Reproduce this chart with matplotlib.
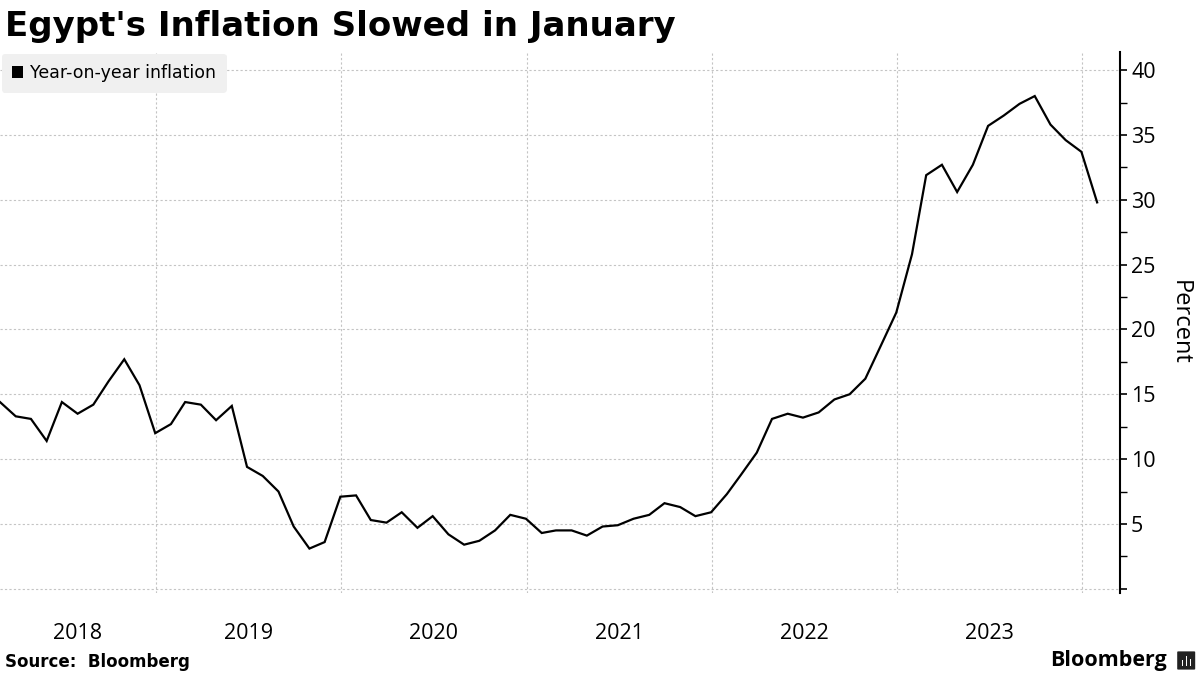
"""
Egypt year-on-year inflation, Bloomberg style line chart.
"""
import matplotlib
matplotlib.use('Agg')
import matplotlib.pyplot as plt
import matplotlib.ticker as mticker
from matplotlib.patches import Patch, FancyBboxPatch
import pandas as pd

# monthly readings, Feb 2018 .. Jan 2024 (month-end)
start_month = '2018-02-28'
inflation = [
    14.4, 13.3, 13.1, 11.4, 14.4, 13.5, 14.2, 16.0, 17.7, 15.7, 12.0,   # 2018
    12.7, 14.4, 14.2, 13.0, 14.1, 9.4, 8.7, 7.5, 4.8, 3.1, 3.6, 7.1,    # 2019
    7.2, 5.3, 5.1, 5.9, 4.7, 5.6, 4.2, 3.4, 3.7, 4.5, 5.7, 5.4,         # 2020
    4.3, 4.5, 4.5, 4.1, 4.8, 4.9, 5.4, 5.7, 6.6, 6.3, 5.6, 5.9,         # 2021
    7.3, 8.8, 10.5, 13.1, 13.5, 13.2, 13.6, 14.6, 15.0, 16.2, 18.7, 21.3,  # 2022
    25.8, 31.9, 32.7, 30.6, 32.7, 35.7, 36.5, 37.4, 38.0, 35.8, 34.6, 33.7,  # 2023
    29.8,                                                               # 2024
]
year_labels = ['2018', '2019', '2020', '2021', '2022', '2023']
y_ticks = [5, 10, 15, 20, 25, 30, 35, 40]

dates = pd.date_range(start_month, periods=len(inflation), freq='ME')

fig = plt.figure(figsize=(12, 6.75), dpi=100)
ax = fig.add_axes([0.0, 0.122, 0.9333, 0.801])

ax.plot(dates, inflation, color='black', linewidth=1.6, solid_joinstyle='miter')

x_left = pd.Timestamp('2018-02-28')
x_right = pd.Timestamp('2024-03-16')
ax.set_xlim(x_left, x_right)
ax.set_ylim(-0.3, 41.4)

# year gridlines at boundaries, labels centred in each visible year
boundaries = [pd.Timestamp(f'{y}-01-01') for y in range(2019, 2025)]
ax.set_xticks(boundaries)
ax.tick_params(axis='x', which='major', length=0, labelbottom=False)
centres = []
for lab in year_labels:
    y = int(lab)
    a = max(pd.Timestamp(f'{y}-01-01'), x_left)
    b = pd.Timestamp(f'{y + 1}-01-01')
    centres.append(a + (b - a) / 2)
ax.set_xticks(centres, minor=True)
ax.set_xticklabels(year_labels, minor=True, fontsize=15.5, family='Open Sans')
ax.tick_params(axis='x', which='minor', length=0, pad=22)

ax.yaxis.tick_right()
ax.yaxis.set_label_position('right')
ax.set_yticks([0] + y_ticks)
ax.set_yticklabels([''] + [str(v) for v in y_ticks], fontsize=15.5, family='Open Sans')
ax.yaxis.set_minor_locator(mticker.MultipleLocator(2.5))
ax.tick_params(axis='y', which='major', length=5, width=1.2, pad=3)
ax.tick_params(axis='y', which='minor', length=5, width=1.0)
ax.set_ylabel('Percent', fontsize=17, family='Open Sans', rotation=270, labelpad=26)

grid_kw = dict(color='#c4c4c4', linewidth=0.8, linestyle=(0, (2, 2)))
ax.grid(axis='y', which='major', **grid_kw)
ax.grid(axis='x', which='major', **grid_kw)

for side in ['top', 'left', 'bottom']:
    ax.spines[side].set_visible(False)
ax.spines['right'].set_linewidth(1.5)

leg = ax.legend(handles=[Patch(facecolor='black', label='Year-on-year inflation')],
                loc='upper left', bbox_to_anchor=(0.0, 1.0), fontsize=12.5,
                handlelength=0.65, handleheight=0.65, handletextpad=0.4,
                borderpad=0.6, frameon=True, fancybox=True, borderaxespad=0.1)
leg.get_frame().set_facecolor('#f0f0f0')
leg.get_frame().set_edgecolor('none')
leg.get_frame().set_alpha(1)

fig.text(0.004, 0.961, "Egypt's Inflation Slowed in January", fontsize=24.5,
         fontweight='bold', ha='left', va='center')
fig.text(0.004, 0.019, 'Source:  Bloomberg', fontsize=12, fontweight='bold',
         ha='left', va='center')
fig.text(0.972, 0.021, 'Bloomberg', fontsize=15.5, fontweight='bold',
         family='Open Sans', ha='right', va='center')

# small logo box
logo = FancyBboxPatch((0.982, 0.009), 0.013, 0.025, boxstyle='round,pad=0.001',
                      transform=fig.transFigure, facecolor='#222222', edgecolor='none')
fig.patches.append(logo)
for i, h in enumerate([0.008, 0.014, 0.010]):
    fig.patches.append(plt.Rectangle((0.9848 + i * 0.0033, 0.014), 0.0014, h,
                                     transform=fig.transFigure, facecolor='white'))

fig.savefig('out.png', dpi=100)
